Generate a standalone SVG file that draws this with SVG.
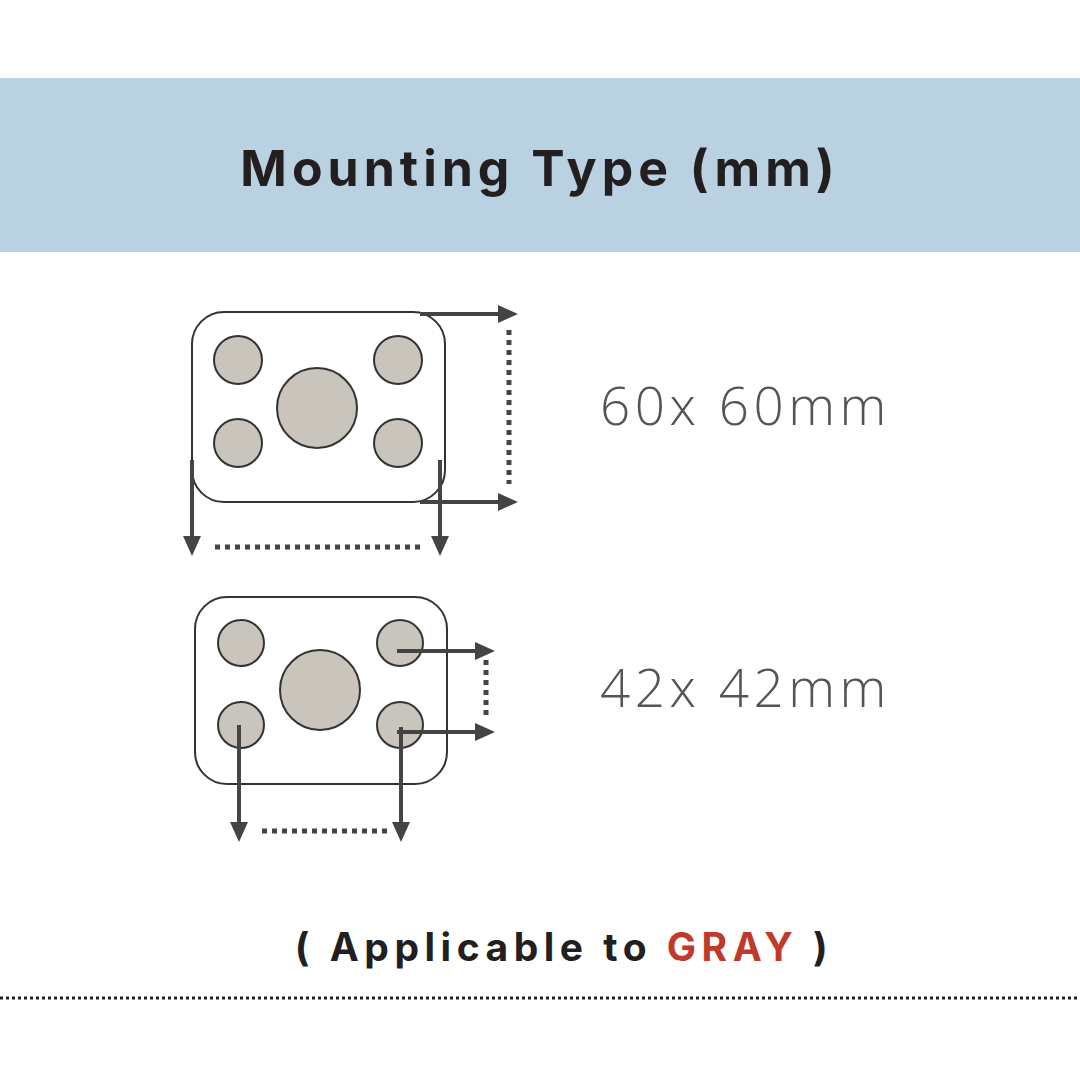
<svg xmlns="http://www.w3.org/2000/svg" width="1080" height="1080" viewBox="0 0 1080 1080">
<defs>
<style>
.plate{fill:#fff;stroke:#333;stroke-width:2}
.hole{fill:#c9c5bc;stroke:#333;stroke-width:2}
.ar{stroke:#444;stroke-width:4;fill:none}
.hd{fill:#444}
.dot{stroke:#444;stroke-width:5;stroke-dasharray:5 5;fill:none}
.dim{font-family:"Open Sans","Liberation Sans",sans-serif;font-size:53px;fill:#555;font-weight:300;letter-spacing:4.5px}
</style>
</defs>
<rect width="1080" height="1080" fill="#fff"/>
<rect x="0" y="78" width="1080" height="174" fill="#bad1e2"/>
<text x="540" y="186" text-anchor="middle" font-family="Inter,'Liberation Sans',sans-serif" font-weight="700" font-size="50" letter-spacing="5" fill="#231f20">Mounting Type (mm)</text>
<g id="mount60">
<rect class="plate" x="192" y="312" width="253" height="190" rx="32"/>
<circle class="hole" cx="238" cy="360" r="24"/>
<circle class="hole" cx="398" cy="360" r="24"/>
<circle class="hole" cx="238" cy="443" r="24"/>
<circle class="hole" cx="398" cy="443" r="24"/>
<circle class="hole" cx="317" cy="408" r="40"/>
<text class="dim" x="600" y="425">60x 60mm</text>
</g>
<g id="mount42">
<rect class="plate" x="195" y="597" width="252" height="187" rx="32"/>
<circle class="hole" cx="241" cy="643" r="23"/>
<circle class="hole" cx="400" cy="643" r="23"/>
<circle class="hole" cx="241" cy="725" r="23"/>
<circle class="hole" cx="400" cy="725" r="23"/>
<circle class="hole" cx="320" cy="690" r="40"/>
<text class="dim" x="600" y="707">42x 42mm</text>
</g>
<g id="connectors">
<line class="ar" x1="420" y1="314" x2="502" y2="314"/><polygon class="hd" points="498,305 518,314 498,323"/>
<line class="ar" x1="420" y1="502" x2="502" y2="502"/><polygon class="hd" points="498,493 518,502 498,511"/>
<line class="dot" x1="509" y1="330" x2="509" y2="484"/>
<line class="ar" x1="192" y1="460" x2="192" y2="540"/><polygon class="hd" points="183,536 192,556 201,536"/>
<line class="ar" x1="440" y1="460" x2="440" y2="540"/><polygon class="hd" points="431,536 440,556 449,536"/>
<line class="dot" x1="215" y1="547" x2="422" y2="547"/>
<line class="ar" x1="397" y1="651" x2="479" y2="651"/><polygon class="hd" points="475,642 495,651 475,660"/>
<line class="ar" x1="397" y1="732" x2="479" y2="732"/><polygon class="hd" points="475,723 495,732 475,741"/>
<line class="dot" x1="486" y1="660" x2="486" y2="718"/>
<line class="ar" x1="239" y1="725" x2="239" y2="826"/><polygon class="hd" points="230,822 239,842 248,822"/>
<line class="ar" x1="401" y1="727" x2="401" y2="826"/><polygon class="hd" points="392,822 401,842 410,822"/>
<line class="dot" x1="262" y1="831" x2="392" y2="831"/>
</g>
<text x="564" y="961" text-anchor="middle" font-family="Inter,'Liberation Sans',sans-serif" font-weight="700" font-size="39" letter-spacing="5.5" fill="#231f20">( Applicable to <tspan fill="#c0392b">GRAY</tspan> )</text>
<line x1="0" y1="998" x2="1080" y2="998" stroke="#231f20" stroke-width="3" stroke-dasharray="3 3"/>
</svg>
